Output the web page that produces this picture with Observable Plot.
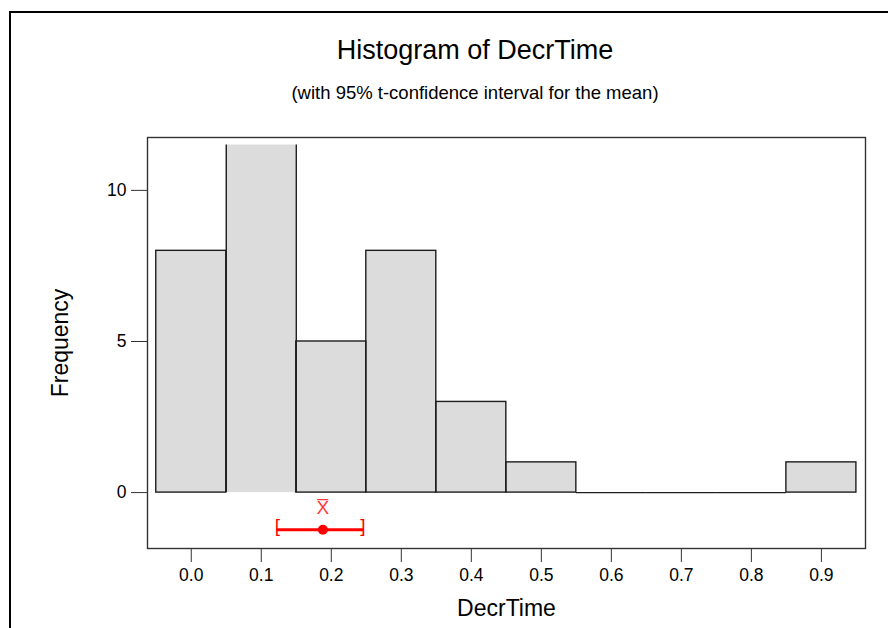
<!DOCTYPE html>
<html>
<head>
<meta charset="utf-8">
<script src="https://cdn.jsdelivr.net/npm/d3@7"></script>
<script src="https://cdn.jsdelivr.net/npm/@observablehq/plot@0.6"></script>
<style>
  html, body { margin: 0; padding: 0; background: #fff; }
  #wrap { position: relative; width: 888px; height: 628px; overflow: hidden; font-family: "Liberation Sans", Arial, sans-serif; color: #000; }
  #border { position: absolute; left: 9px; top: 11px; width: 1000px; height: 1000px; border-top: 2px solid #000; border-left: 2px solid #000; box-sizing: border-box; }
  .ttl { position: absolute; left: 0; width: 950px; text-align: center; white-space: nowrap; }
  #title { top: 37px; font-size: 27px; line-height: 27px; }
  #subtitle { top: 84px; font-size: 18.5px; line-height: 18.5px; }
  #chart { position: absolute; left: 0; top: 0; }
</style>
</head>
<body>
<div id="wrap">
  <div id="border"></div>
  <div id="chart"></div>
  <div class="ttl" id="title">Histogram of DecrTime</div>
  <div class="ttl" id="subtitle">(with 95% t-confidence interval for the mean)</div>
</div>
<script>
// ---- data ----
const binLower = [-0.05, 0.05, 0.15, 0.25, 0.35, 0.45, 0.55, 0.65, 0.75, 0.85];
const binUpper = [0.05, 0.15, 0.25, 0.35, 0.45, 0.55, 0.65, 0.75, 0.85, 0.95];
const counts   = [8, 12, 5, 8, 3, 1, 0, 0, 0, 1];
const xTicks   = [0, 0.1, 0.2, 0.3, 0.4, 0.5, 0.6, 0.7, 0.8, 0.9];
const yTicks   = [0, 5, 10];
const ciMean   = 0.188;
const ciLower  = 0.122;
const ciUpper  = 0.246;
const xLabel   = "DecrTime";
const yLabel   = "Frequency";

// display settings
const yCap = 11.5;      // bars taller than this are clipped (as in the original)
const ciRow = -1.23;    // vertical position of the confidence-interval row

const bins = counts.map((c, i) => ({x1: binLower[i], x2: binUpper[i], count: c, shown: Math.min(c, yCap)}));
const fullBars = bins.filter(d => d.count > 0 && d.count <= yCap);
const clippedBars = bins.filter(d => d.count > yCap);
const emptyBins = bins.filter(d => d.count === 0);

const barStroke = "#1e1e1e";
const red = "#ff0000";

const chart = Plot.plot({
  width: 888,
  height: 628,
  marginLeft: 147,
  marginRight: 23,
  marginTop: 137,
  marginBottom: 80,
  style: {fontFamily: "'Liberation Sans', Arial, sans-serif", background: "transparent", color: "#000"},
  x: {domain: [-0.0625, 0.963]},
  y: {domain: [-1.85, 11.75]},
  marks: [
    Plot.rect(bins, {x1: "x1", x2: "x2", y1: 0, y2: "shown", fill: "#dcdcdc", inset: 0}),
    Plot.rect(fullBars, {x1: "x1", x2: "x2", y1: 0, y2: "count", stroke: barStroke, strokeWidth: 1.4, fill: "none", inset: 0}),
    Plot.ruleX(clippedBars, {x: "x1", y1: 0, y2: "shown", stroke: barStroke, strokeWidth: 1.4}),
    Plot.ruleX(clippedBars, {x: "x2", y1: 0, y2: "shown", stroke: barStroke, strokeWidth: 1.4}),
    Plot.ruleY(emptyBins, {y: 0, x1: "x1", x2: "x2", stroke: barStroke, strokeWidth: 1.4}),
    Plot.frame({stroke: "#333", strokeWidth: 1.4}),
    Plot.axisX({ticks: xTicks, tickFormat: d3.format(".1f"), tickSize: 14, tickPadding: 6, fontSize: 17.5, stroke: "#333", label: null}),
    Plot.axisY({ticks: yTicks, tickSize: 16, tickPadding: 5, fontSize: 17.5, stroke: "#333", label: null}),
    // confidence interval
    Plot.ruleY([ciMean], {x1: ciLower, x2: ciUpper, y: ciRow, stroke: red, strokeWidth: 3}),
    Plot.dot([ciMean], {x: d => d, y: ciRow, r: 5, fill: red, stroke: "none"}),
    Plot.text([ciLower], {x: d => d, y: ciRow, text: () => "[", fill: red, fontSize: 19, textAnchor: "start", dx: -2, dy: -4}),
    Plot.text([ciUpper], {x: d => d, y: ciRow, text: () => "]", fill: red, fontSize: 19, textAnchor: "end", dx: 2, dy: -4}),
    Plot.text([ciMean], {x: d => d, y: ciRow, text: () => "X\u0305", fill: "#ff3a3a", fontSize: 19, dy: -22}),
    // axis titles
    Plot.text([xLabel], {frameAnchor: "bottom", text: d => d, dy: 67, fontSize: 23, fill: "#000", textAnchor: "middle"}),
    Plot.text([yLabel], {frameAnchor: "left", text: d => d, dx: -87, rotate: -90, fontSize: 23, fill: "#000", textAnchor: "middle"})
  ]
});
document.getElementById("chart").appendChild(chart);
</script>
</body>
</html>
